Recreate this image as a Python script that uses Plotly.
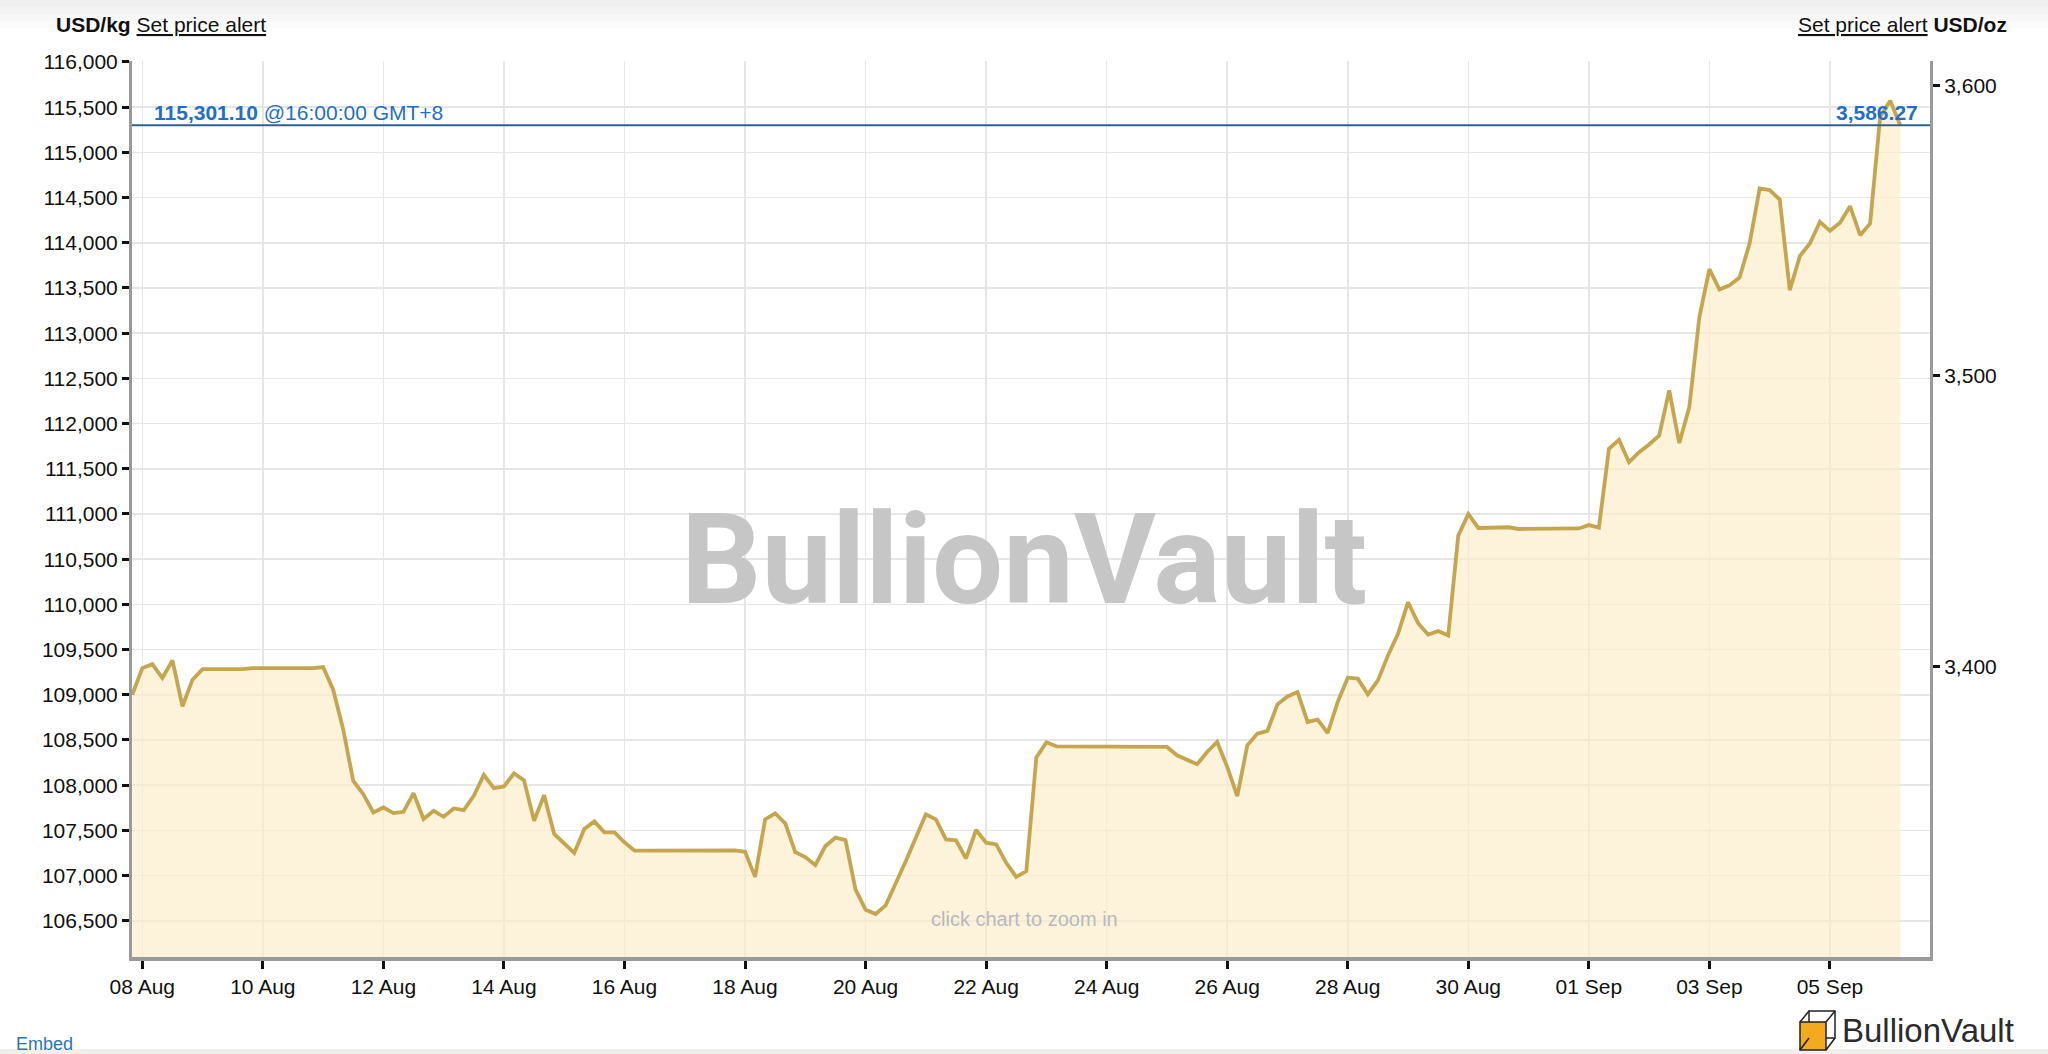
import plotly.graph_objects as go

# ---------------- data ----------------
times = [
    "2025-08-07 20:00",
    "2025-08-08 00:00", "2025-08-08 04:00", "2025-08-08 08:00", "2025-08-08 12:00", "2025-08-08 16:00", "2025-08-08 20:00",
    "2025-08-09 00:00", "2025-08-09 16:00", "2025-08-09 20:00", "2025-08-10 20:00",
    "2025-08-11 00:00", "2025-08-11 04:00", "2025-08-11 08:00", "2025-08-11 12:00", "2025-08-11 16:00", "2025-08-11 20:00",
    "2025-08-12 00:00", "2025-08-12 04:00", "2025-08-12 08:00", "2025-08-12 12:00", "2025-08-12 16:00", "2025-08-12 20:00",
    "2025-08-13 00:00", "2025-08-13 04:00", "2025-08-13 08:00", "2025-08-13 12:00", "2025-08-13 16:00", "2025-08-13 20:00",
    "2025-08-14 00:00", "2025-08-14 04:00", "2025-08-14 08:00", "2025-08-14 12:00", "2025-08-14 16:00", "2025-08-14 20:00",
    "2025-08-15 00:00", "2025-08-15 04:00", "2025-08-15 08:00", "2025-08-15 12:00", "2025-08-15 16:00", "2025-08-15 20:00",
    "2025-08-16 00:00", "2025-08-16 04:00", "2025-08-16 08:00", "2025-08-17 20:00",
    "2025-08-18 00:00", "2025-08-18 04:00", "2025-08-18 08:00", "2025-08-18 12:00", "2025-08-18 16:00", "2025-08-18 20:00",
    "2025-08-19 00:00", "2025-08-19 04:00", "2025-08-19 08:00", "2025-08-19 12:00", "2025-08-19 16:00", "2025-08-19 20:00",
    "2025-08-20 00:00", "2025-08-20 04:00", "2025-08-20 08:00", "2025-08-20 12:00", "2025-08-20 16:00", "2025-08-20 20:00",
    "2025-08-21 00:00", "2025-08-21 04:00", "2025-08-21 08:00", "2025-08-21 12:00", "2025-08-21 16:00", "2025-08-21 20:00",
    "2025-08-22 00:00", "2025-08-22 04:00", "2025-08-22 08:00", "2025-08-22 12:00", "2025-08-22 16:00", "2025-08-22 20:00",
    "2025-08-23 00:00", "2025-08-23 04:00", "2025-08-24 20:00",
    "2025-08-25 00:00", "2025-08-25 04:00", "2025-08-25 08:00", "2025-08-25 12:00", "2025-08-25 16:00", "2025-08-25 20:00",
    "2025-08-26 00:00", "2025-08-26 04:00", "2025-08-26 08:00", "2025-08-26 12:00", "2025-08-26 16:00", "2025-08-26 20:00",
    "2025-08-27 00:00", "2025-08-27 04:00", "2025-08-27 08:00", "2025-08-27 12:00", "2025-08-27 16:00", "2025-08-27 20:00",
    "2025-08-28 00:00", "2025-08-28 04:00", "2025-08-28 08:00", "2025-08-28 12:00", "2025-08-28 16:00", "2025-08-28 20:00",
    "2025-08-29 00:00", "2025-08-29 04:00", "2025-08-29 08:00", "2025-08-29 12:00", "2025-08-29 16:00", "2025-08-29 20:00",
    "2025-08-30 00:00", "2025-08-30 04:00", "2025-08-30 16:00", "2025-08-30 20:00", "2025-08-31 20:00",
    "2025-09-01 00:00", "2025-09-01 04:00", "2025-09-01 08:00", "2025-09-01 12:00", "2025-09-01 16:00", "2025-09-01 20:00",
    "2025-09-02 00:00", "2025-09-02 04:00", "2025-09-02 08:00", "2025-09-02 12:00", "2025-09-02 16:00", "2025-09-02 20:00",
    "2025-09-03 00:00", "2025-09-03 04:00", "2025-09-03 08:00", "2025-09-03 12:00", "2025-09-03 16:00", "2025-09-03 20:00",
    "2025-09-04 00:00", "2025-09-04 04:00", "2025-09-04 08:00", "2025-09-04 12:00", "2025-09-04 16:00", "2025-09-04 20:00",
    "2025-09-05 00:00", "2025-09-05 04:00", "2025-09-05 08:00", "2025-09-05 12:00", "2025-09-05 16:00", "2025-09-05 20:00",
    "2025-09-06 00:00", "2025-09-06 04:00",
]

price_usd_kg = [
    109000,
    109295, 109339, 109185, 109380, 108873, 109167,
    109284, 109284, 109295, 109295,
    109306, 109056, 108616, 108047, 107900, 107698,
    107753, 107691, 107705, 107911, 107625, 107716,
    107650, 107742, 107724, 107882, 108113, 107966,
    107985, 108131, 108054, 107606, 107889, 107460,
    107349, 107250, 107515, 107599, 107478, 107478,
    107368, 107276, 107276, 107278,
    107263, 106985, 107622, 107689, 107578, 107259,
    107204, 107115, 107326, 107419, 107393, 106844,
    106622, 106574, 106670, 106907, 107159, 107419,
    107678, 107622, 107400, 107389, 107189, 107504,
    107363, 107344, 107141, 106985, 107048, 108307,
    108474, 108430, 108430,
    108423, 108330, 108275, 108231, 108367, 108478,
    108202, 107878, 108441, 108570, 108600, 108894,
    108982, 109030, 108699, 108725, 108577, 108920,
    109189, 109178, 109005, 109159, 109435, 109675,
    110024, 109792, 109667, 109704, 109656, 110761,
    111000, 110845, 110853, 110834, 110840,
    110877, 110850, 111721, 111820, 111573, 111684,
    111769, 111869, 112367, 111784, 112182, 113179,
    113708, 113482, 113530, 113615, 113992, 114601,
    114583, 114479, 113475, 113852, 113992, 114232,
    114132, 114221, 114405, 114084, 114213, 115395,
    115572, 115301.10,
]

current_kg = 115301.10
current_oz = 3586.27
current_time = "16:00:00 GMT+8"

y_ticks_kg = [106500, 107000, 107500, 108000, 108500, 109000, 109500, 110000, 110500,
              111000, 111500, 112000, 112500, 113000, 113500, 114000, 114500, 115000,
              115500, 116000]
y_ticks_oz = [3400, 3500, 3600]

GRAMS_PER_OZ = 31.1034768
KG_PER_OZ_FACTOR = 1000.0 / GRAMS_PER_OZ  # USD/kg per USD/oz

# ---------------- layout geometry ----------------
W, H = 2048, 1054
L, R, T, B = 132, 1930, 61, 957   # plot area in pixels


def px(x):
    return (x - L) / (R - L)


def py(y):
    return (B - y) / (B - T)


y_range = [106099, 116011]
y2_range = [v / KG_PER_OZ_FACTOR for v in y_range]
x_range = ["2025-08-07 19:54", "2025-09-06 15:50"]

LINE = "#c6a64c"
FILL = "rgba(252,235,197,0.62)"
GRID = "#e6e6e6"
AXIS = "#9a9a9a"
BLUE_LINE = "#2f5f97"
BLUE_TXT = "#1f6fd3"
FONT = "Liberation Sans, Arial, Helvetica, sans-serif"

fig = go.Figure()

fig.add_trace(go.Scatter(
    x=times, y=price_usd_kg, mode="lines",
    line=dict(color=LINE, width=3.8),
    fill="tozeroy", fillcolor=FILL,
    hoverinfo="skip", showlegend=False,
))
# dummy trace to activate right axis
fig.add_trace(go.Scatter(x=[], y=[], yaxis="y2", showlegend=False, hoverinfo="skip"))

fig.update_layout(
    width=W, height=H,
    margin=dict(l=L, r=W - R, t=T, b=H - B, pad=0),
    paper_bgcolor="white", plot_bgcolor="white",
    font=dict(family=FONT, size=21, color="#111111"),
    hovermode=False,
    showlegend=False,
    xaxis=dict(
        type="date", range=x_range,
        tick0="2025-08-08", dtick=2 * 86400000, tickformat="%d %b",
        showgrid=True, gridcolor=GRID, gridwidth=1.5,
        showline=True, linecolor=AXIS, linewidth=4,
        ticks="outside", ticklen=8, tickwidth=3, tickcolor="#111111",
        tickfont=dict(size=21, color="#111111", family=FONT),
        zeroline=False, fixedrange=True,
    ),
    yaxis=dict(
        range=y_range, tickvals=y_ticks_kg, tickformat=",d",
        showgrid=True, gridcolor=GRID, gridwidth=1.5,
        showline=True, linecolor=AXIS, linewidth=3,
        ticks="outside", ticklen=7, tickwidth=3, tickcolor="#111111",
        tickfont=dict(size=21, color="#111111", family=FONT),
        zeroline=False, fixedrange=True,
    ),
    yaxis2=dict(
        range=y2_range, tickvals=y_ticks_oz, tickformat=",d",
        overlaying="y", side="right",
        showgrid=False,
        showline=True, linecolor=AXIS, linewidth=3,
        ticks="outside", ticklen=7, tickwidth=3, tickcolor="#111111",
        tickfont=dict(size=21, color="#111111", family=FONT),
        zeroline=False, fixedrange=True,
    ),
)

shapes = []
# subtle top gradient
for i, c in enumerate(["#efefef", "#f3f3f3", "#f7f7f7", "#fbfbfb"]):
    shapes.append(dict(type="rect", xref="paper", yref="paper",
                       x0=px(0), x1=px(W), y0=py(7 * (i + 1)), y1=py(7 * i),
                       fillcolor=c, line=dict(width=0), layer="below"))
# current price line
shapes.append(dict(type="line", xref="paper", yref="y", x0=0, x1=1,
                   y0=current_kg, y1=current_kg,
                   line=dict(color=BLUE_LINE, width=2), layer="above"))
# bottom band
shapes.append(dict(type="rect", xref="paper", yref="paper",
                   x0=px(0), x1=px(W), y0=py(H), y1=py(1049),
                   fillcolor="#efefec", line=dict(width=0), layer="above"))
# logo cube: back face, front face, connectors
shapes.append(dict(type="rect", xref="paper", yref="paper",
                   x0=px(1809), x1=px(1835), y0=py(1038), y1=py(1011),
                   line=dict(color="#222222", width=1.5), fillcolor="rgba(0,0,0,0)"))
shapes.append(dict(type="rect", xref="paper", yref="paper",
                   x0=px(1800), x1=px(1826), y0=py(1050), y1=py(1022),
                   line=dict(color="#222222", width=1.5), fillcolor="#f5a91c"))
for (xa, ya, xb, yb) in [(1800, 1022, 1809, 1011), (1826, 1022, 1835, 1011),
                         (1826, 1050, 1835, 1038), (1800, 1050, 1809, 1038)]:
    shapes.append(dict(type="line", xref="paper", yref="paper",
                       x0=px(xa), x1=px(xb), y0=py(ya), y1=py(yb),
                       line=dict(color="#222222", width=1.5)))
fig.update_layout(shapes=shapes)

ann = []
# watermark
ann.append(dict(text="<b>BullionVault</b>", xref="paper", yref="paper",
                x=px(1024), y=py(560), xanchor="center", yanchor="middle",
                showarrow=False,
                font=dict(family="Roboto, Liberation Sans, sans-serif", size=126, color="#c6c6c6")))
ann.append(dict(text="click chart to zoom in", xref="paper", yref="paper",
                x=px(1024), y=py(919), xanchor="center", yanchor="middle",
                showarrow=False, font=dict(family=FONT, size=20, color="#b8b8c0")))
# header
ann.append(dict(text="<b>USD/kg</b> <span style='text-decoration:underline'>Set price alert</span>",
                xref="paper", yref="paper", x=px(54), y=py(24),
                xanchor="left", yanchor="middle", showarrow=False,
                font=dict(family=FONT, size=21, color="#111111")))
ann.append(dict(text="<span style='text-decoration:underline'>Set price alert</span> <b>USD/oz</b>",
                xref="paper", yref="paper", x=px(2009), y=py(24),
                xanchor="right", yanchor="middle", showarrow=False,
                font=dict(family=FONT, size=21, color="#111111")))
# current price labels
ann.append(dict(text=f"<b>{current_kg:,.2f}</b> @{current_time}",
                xref="paper", yref="paper", x=px(152), y=py(112),
                xanchor="left", yanchor="middle", showarrow=False,
                font=dict(family=FONT, size=21, color=BLUE_TXT)))
ann.append(dict(text=f"<b>{current_oz:,.2f}</b>",
                xref="paper", yref="paper", x=px(1920), y=py(112),
                xanchor="right", yanchor="middle", showarrow=False,
                font=dict(family=FONT, size=21, color=BLUE_TXT)))
# footer
ann.append(dict(text="Embed", xref="paper", yref="paper", x=px(14), y=py(1044),
                xanchor="left", yanchor="middle", showarrow=False,
                font=dict(family=FONT, size=18, color="#2a72c7")))
ann.append(dict(text="BullionVault", xref="paper", yref="paper", x=px(1840), y=py(1030),
                xanchor="left", yanchor="middle", showarrow=False,
                font=dict(family=FONT, size=33, color="#2b2b2b")))
fig.update_layout(annotations=ann)

fig.write_html(
    "out.html",
    config={"displayModeBar": False, "staticPlot": True},
    post_script="document.body.style.margin='0';document.body.style.overflow='hidden';",
)
